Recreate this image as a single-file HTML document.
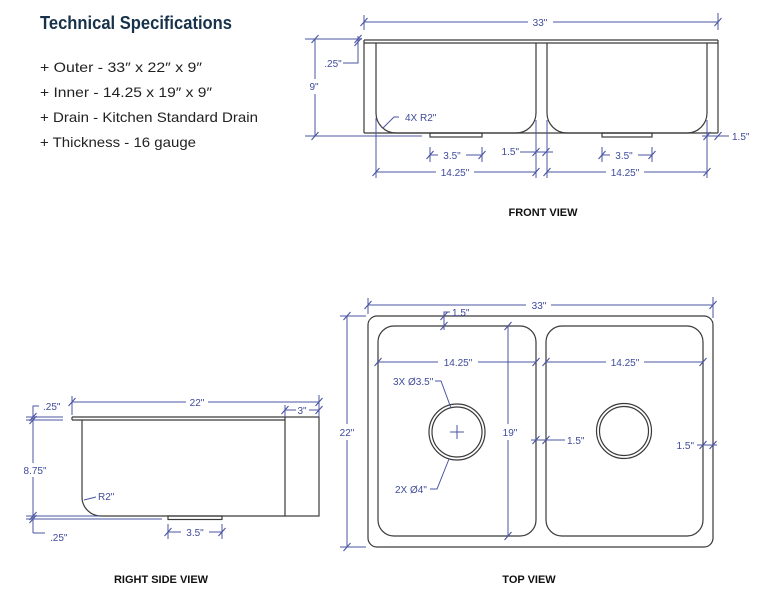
<!DOCTYPE html>
<html>
<head>
<meta charset="utf-8">
<style>
html,body{margin:0;padding:0;background:#fff;}
svg{display:block;}
.d{stroke:#4a55a2;stroke-width:1;fill:none;}
.o{stroke:#3a3a3a;stroke-width:1.2;fill:none;}
.t{font-family:"Liberation Sans",sans-serif;font-size:10px;fill:#3f4b9b;}
.lbl{font-family:"Liberation Sans",sans-serif;font-size:11px;font-weight:bold;fill:#111;}
.spec{font-family:"Liberation Sans",sans-serif;font-size:14px;fill:#222;}
</style>
</head>
<body>
<svg width="768" height="604" viewBox="0 0 768 604" xmlns="http://www.w3.org/2000/svg">
<defs>
<g id="tk"><line x1="-3.5" y1="4" x2="3.5" y2="-4" stroke="#4a55a2" stroke-width="1.1"/></g>
</defs>

<!-- Title + specs -->
<text x="40" y="29" textLength="192" lengthAdjust="spacingAndGlyphs" style="font-family:'Liberation Sans',sans-serif;font-weight:bold;font-size:18px;fill:#17324a;">Technical Specifications</text>
<text class="spec" x="40" y="72" textLength="162" lengthAdjust="spacingAndGlyphs">+ Outer - 33″ x 22″ x 9″</text>
<text class="spec" x="40" y="97" textLength="172" lengthAdjust="spacingAndGlyphs">+ Inner - 14.25  x 19″ x 9″</text>
<text class="spec" x="40" y="122" textLength="218" lengthAdjust="spacingAndGlyphs">+ Drain - Kitchen Standard Drain</text>
<text class="spec" x="40" y="147" textLength="156" lengthAdjust="spacingAndGlyphs">+ Thickness - 16 gauge</text>

<!-- ============ FRONT VIEW ============ -->
<g class="o">
<line x1="364" y1="40" x2="718" y2="40"/>
<line x1="364" y1="43" x2="718" y2="43"/>
<line x1="364" y1="40" x2="364" y2="133"/>
<line x1="718" y1="40" x2="718" y2="133"/>
<line x1="364" y1="133" x2="718" y2="133"/>
<path d="M376,43 V113 A20,20 0 0 0 396,133 H516 A20,20 0 0 0 536,113 V43"/>
<path d="M547,43 V113 A20,20 0 0 0 567,133 H687 A20,20 0 0 0 707,113 V43"/>
<rect x="430" y="133" width="52" height="4"/>
<rect x="602" y="133" width="50" height="4"/>
</g>
<g class="d">
<!-- 33 -->
<line x1="364" y1="22" x2="528" y2="22"/><line x1="553" y1="22" x2="718" y2="22"/>
<line x1="364" y1="15" x2="364" y2="30"/><line x1="718" y1="13" x2="718" y2="30"/>
<!-- 9 -->
<line x1="305" y1="39" x2="362" y2="39"/>
<line x1="305" y1="136" x2="422" y2="136"/>
<line x1="315" y1="39" x2="315" y2="79"/><line x1="315" y1="94" x2="315" y2="136"/>
<!-- .25 -->
<path d="M343,63 H358 V36"/>
<!-- 4X R2 leader -->
<path d="M399,117 H394 L383,128"/>
<!-- ext lines -->
<line x1="376" y1="118" x2="376" y2="178"/>
<line x1="536" y1="120" x2="536" y2="178"/>
<line x1="547" y1="120" x2="547" y2="178"/>
<line x1="707" y1="120" x2="707" y2="178"/>
<line x1="430" y1="147" x2="430" y2="162"/><line x1="482" y1="147" x2="482" y2="162"/>
<line x1="602" y1="147" x2="602" y2="162"/><line x1="652" y1="147" x2="652" y2="162"/>
<!-- 3.5 left -->
<line x1="430" y1="155" x2="438" y2="155"/><line x1="466" y1="155" x2="482" y2="155"/>
<!-- 14.25 left -->
<line x1="376" y1="172" x2="436" y2="172"/><line x1="474" y1="172" x2="536" y2="172"/>
<!-- 1.5 middle -->
<line x1="520" y1="152" x2="553" y2="152"/>
<!-- 3.5 right -->
<line x1="602" y1="155" x2="610" y2="155"/><line x1="638" y1="155" x2="652" y2="155"/>
<!-- 14.25 right -->
<line x1="547" y1="172" x2="606" y2="172"/><line x1="644" y1="172" x2="707" y2="172"/>
<!-- 1.5 right -->
<line x1="702" y1="136" x2="729" y2="136"/>
</g>
<use href="#tk" x="364" y="22"/><use href="#tk" x="718" y="22"/>
<use href="#tk" x="315" y="39"/><use href="#tk" x="315" y="136"/>
<use href="#tk" x="358" y="39"/><use href="#tk" x="358" y="42"/>
<use href="#tk" x="430" y="155"/><use href="#tk" x="482" y="155"/>
<use href="#tk" x="376" y="172"/><use href="#tk" x="536" y="172"/>
<use href="#tk" x="536" y="152"/><use href="#tk" x="546" y="152"/>
<use href="#tk" x="547" y="172"/><use href="#tk" x="707" y="172"/>
<use href="#tk" x="602" y="155"/><use href="#tk" x="652" y="155"/>
<use href="#tk" x="707" y="136"/><use href="#tk" x="718" y="136"/>
<text class="t" x="540" y="26" text-anchor="middle">33"</text>
<text class="t" x="314" y="90" text-anchor="middle">9"</text>
<text class="t" x="333" y="67" text-anchor="middle">.25"</text>
<text class="t" x="405" y="121">4X R2"</text>
<text class="t" x="452" y="159" text-anchor="middle">3.5"</text>
<text class="t" x="455" y="176" text-anchor="middle">14.25"</text>
<text class="t" x="519" y="155" text-anchor="end">1.5"</text>
<text class="t" x="624" y="159" text-anchor="middle">3.5"</text>
<text class="t" x="625" y="176" text-anchor="middle">14.25"</text>
<text class="t" x="732" y="140">1.5"</text>
<text class="lbl" x="543" y="216" text-anchor="middle">FRONT VIEW</text>

<!-- ============ RIGHT SIDE VIEW ============ -->
<g class="o">
<line x1="72" y1="417" x2="285" y2="417"/>
<line x1="72" y1="420" x2="285" y2="420"/>
<line x1="72" y1="417" x2="72" y2="420"/>
<rect x="285" y="417" width="34" height="99"/>
<path d="M82,420 V497 A19,19 0 0 0 101,516 H285"/>
<rect x="168" y="516" width="54" height="3.5"/>
</g>
<g class="d">
<line x1="72" y1="402" x2="186" y2="402"/><line x1="208" y1="402" x2="319" y2="402"/>
<line x1="72" y1="396" x2="72" y2="415"/>
<line x1="285" y1="405" x2="285" y2="417"/>
<line x1="319" y1="395" x2="319" y2="417"/>
<line x1="285" y1="410" x2="296" y2="410"/><line x1="309" y1="410" x2="319" y2="410"/>
<path d="M39,406 H33 V463"/><line x1="33" y1="477" x2="33" y2="533"/>
<path d="M33,533 H45"/>
<line x1="26" y1="417" x2="63" y2="417"/><line x1="26" y1="420" x2="63" y2="420"/>
<line x1="26" y1="516" x2="100" y2="516"/><line x1="26" y1="519" x2="162" y2="519"/>
<path d="M96,497 L84,500"/>
<line x1="168" y1="524" x2="168" y2="539"/><line x1="222" y1="524" x2="222" y2="539"/>
<line x1="168" y1="532" x2="181" y2="532"/><line x1="209" y1="532" x2="222" y2="532"/>
</g>
<use href="#tk" x="72" y="402"/><use href="#tk" x="319" y="402"/>
<use href="#tk" x="285" y="410"/><use href="#tk" x="319" y="410"/>
<use href="#tk" x="33" y="417"/><use href="#tk" x="33" y="420"/>
<use href="#tk" x="33" y="516"/><use href="#tk" x="33" y="519"/>
<use href="#tk" x="168" y="532"/><use href="#tk" x="222" y="532"/>
<text class="t" x="197" y="406" text-anchor="middle">22"</text>
<text class="t" x="302" y="414" text-anchor="middle">3"</text>
<text class="t" x="43" y="410">.25"</text>
<text class="t" x="35" y="474" text-anchor="middle">8.75"</text>
<text class="t" x="50" y="541">.25"</text>
<text class="t" x="98" y="500">R2"</text>
<text class="t" x="195" y="536" text-anchor="middle">3.5"</text>
<text class="lbl" x="161" y="583" text-anchor="middle">RIGHT SIDE VIEW</text>

<!-- ============ TOP VIEW ============ -->
<g class="o">
<rect x="368" y="316" width="345" height="231" rx="9"/>
<rect x="378" y="326" width="158" height="210" rx="16"/>
<rect x="546" y="326" width="157" height="210" rx="16"/>
<circle cx="457" cy="432" r="28"/>
<circle cx="457" cy="432" r="25"/>
<circle cx="624" cy="431" r="27.5"/>
<circle cx="624" cy="431" r="24.5"/>
</g>
<g class="d">
<line x1="450" y1="432" x2="464" y2="432"/><line x1="457" y1="425" x2="457" y2="439"/>
<!-- 33 -->
<line x1="368" y1="305" x2="526" y2="305"/><line x1="551" y1="305" x2="713" y2="305"/>
<line x1="368" y1="298" x2="368" y2="314"/><line x1="713" y1="297" x2="713" y2="318"/>
<!-- 22 -->
<line x1="347" y1="316" x2="347" y2="424"/><line x1="347" y1="440" x2="347" y2="547"/>
<line x1="340" y1="316" x2="366" y2="316"/><line x1="340" y1="547" x2="366" y2="547"/>
<!-- 1.5 top -->
<path d="M450,312 H444 V330"/>
<!-- 14.25 left -->
<line x1="378" y1="362" x2="438" y2="362"/><line x1="478" y1="362" x2="536" y2="362"/>
<!-- 19 -->
<line x1="508" y1="326" x2="508" y2="424"/><line x1="508" y1="440" x2="508" y2="536"/>
<!-- leaders -->
<path d="M435,381 H441 L451,408"/>
<path d="M430,489 H437 L449,459"/>
<!-- 1.5 middle -->
<line x1="531" y1="440" x2="565" y2="440"/>
<!-- 14.25 right -->
<line x1="546" y1="362" x2="606" y2="362"/><line x1="644" y1="362" x2="703" y2="362"/>
<!-- 1.5 right -->
<line x1="697" y1="445" x2="717" y2="445"/>
</g>
<use href="#tk" x="368" y="305"/><use href="#tk" x="713" y="305"/>
<use href="#tk" x="347" y="316"/><use href="#tk" x="347" y="547"/>
<use href="#tk" x="444" y="316"/><use href="#tk" x="444" y="326"/>
<use href="#tk" x="378" y="362"/><use href="#tk" x="536" y="362"/>
<use href="#tk" x="508" y="326"/><use href="#tk" x="508" y="536"/>
<use href="#tk" x="536" y="440"/><use href="#tk" x="546" y="440"/>
<use href="#tk" x="546" y="362"/><use href="#tk" x="703" y="362"/>
<use href="#tk" x="703" y="445"/><use href="#tk" x="713" y="445"/>
<text class="t" x="539" y="309" text-anchor="middle">33"</text>
<text class="t" x="347" y="436" text-anchor="middle">22"</text>
<text class="t" x="452" y="316">1.5"</text>
<text class="t" x="458" y="366" text-anchor="middle">14.25"</text>
<text class="t" x="510" y="436" text-anchor="middle">19"</text>
<text class="t" x="393" y="385">3X Ø3.5"</text>
<text class="t" x="395" y="493">2X Ø4"</text>
<text class="t" x="567" y="444">1.5"</text>
<text class="t" x="625" y="366" text-anchor="middle">14.25"</text>
<text class="t" x="694" y="449" text-anchor="end">1.5"</text>
<text class="lbl" x="529" y="583" text-anchor="middle">TOP VIEW</text>
</svg>
</body>
</html>
